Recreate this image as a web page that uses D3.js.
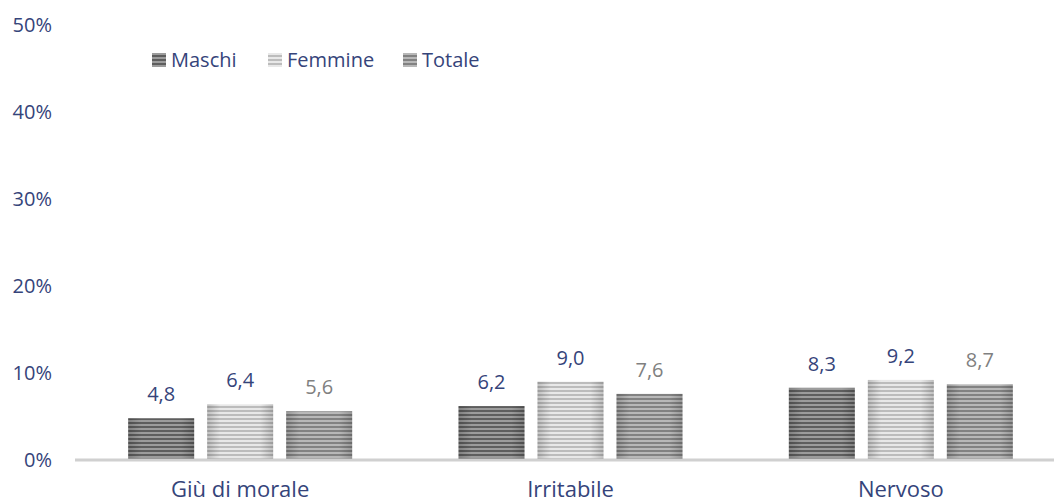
<!DOCTYPE html>
<html>
<head>
<meta charset="utf-8">
<script src="https://cdn.jsdelivr.net/npm/d3@7"></script>
<style>
  body { margin: 0; background: #fff; }
  text { font-family: "Open Sans", sans-serif; }
</style>
</head>
<body>
<div class="chart"></div>
<script>
var categories = ["Giù di morale", "Irritabile", "Nervoso"];
var seriesNames = ["Maschi", "Femmine", "Totale"];
var maschi = [4.8, 6.2, 8.3];
var femmine = [6.4, 9.0, 9.2];
var totale = [5.6, 7.6, 8.7];
var yTicks = [0, 10, 20, 30, 40, 50];

var svgWidth = 1054;
var svgHeight = 504;

var svg = d3.select(".chart")
  .append("svg")
  .attr("width", svgWidth)
  .attr("height", svgHeight);

// stripes + edge shading for the bars
var stripes = [
  { light: "#9c9c9c", dark: "#5e5e5e" },
  { light: "#e8e8e8", dark: "#bcbcbc" },
  { light: "#b8b8b8", dark: "#828282" }
];
var defs = svg.append("defs");
stripes.forEach(function (s, i) {
  var p = defs.append("pattern")
    .attr("id", "pat" + i)
    .attr("patternUnits", "userSpaceOnUse")
    .attr("width", 8)
    .attr("height", 4);
  p.append("rect").attr("width", 8).attr("height", 4).attr("fill", s.light);
  p.append("rect").attr("y", 2).attr("width", 8).attr("height", 2).attr("fill", s.dark);
});
var shade = defs.append("linearGradient").attr("id", "shade");
shade.append("stop").attr("offset", "0%").attr("stop-color", "#000").attr("stop-opacity", 0.18);
shade.append("stop").attr("offset", "20%").attr("stop-color", "#000").attr("stop-opacity", 0);
shade.append("stop").attr("offset", "80%").attr("stop-color", "#000").attr("stop-opacity", 0);
shade.append("stop").attr("offset", "100%").attr("stop-color", "#000").attr("stop-opacity", 0.18);

var x0 = d3.scaleBand()
  .domain(categories)
  .range([75, 1066]);

var innerW = 237;
var x1 = d3.scaleBand()
  .domain(seriesNames)
  .range([0, innerW])
  .paddingInner(13 / 79)
  .paddingOuter(13 / 158);

var y = d3.scaleLinear()
  .domain([0, 50])
  .range([460, 25]);

// y tick labels
svg.append("g").selectAll("text")
  .data(yTicks)
  .enter()
  .append("text")
  .attr("x", 52)
  .attr("y", d => y(d))
  .attr("dy", "0.35em")
  .attr("text-anchor", "end")
  .style("font-size", "20px")
  .style("fill", "#35447a")
  .text(d => d + "%");

var rows = [];
categories.forEach(function (c, i) {
  [maschi, femmine, totale].forEach(function (arr, j) {
    rows.push({ cat: c, series: seriesNames[j], idx: j, value: arr[i] });
  });
});

function barX(d) {
  return x0(d.cat) + (x0.bandwidth() - innerW) / 2 + x1(d.series);
}

var bars = svg.append("g");
bars.selectAll("rect.bar")
  .data(rows)
  .enter()
  .append("rect")
  .attr("class", "bar")
  .attr("x", barX)
  .attr("y", d => y(d.value))
  .attr("width", x1.bandwidth())
  .attr("height", d => y(0) - y(d.value))
  .attr("fill", d => "url(#pat" + d.idx + ")");

bars.selectAll("rect.shade")
  .data(rows)
  .enter()
  .append("rect")
  .attr("class", "shade")
  .attr("x", barX)
  .attr("y", d => y(d.value))
  .attr("width", x1.bandwidth())
  .attr("height", d => y(0) - y(d.value))
  .attr("fill", "url(#shade)");

// value labels
svg.append("g").selectAll("text")
  .data(rows)
  .enter()
  .append("text")
  .attr("x", d => barX(d) + x1.bandwidth() / 2)
  .attr("y", d => y(d.value) - 17)
  .attr("text-anchor", "middle")
  .style("font-size", "20px")
  .style("fill", d => d.idx === 2 ? "#808080" : "#35447a")
  .text(d => d.value.toFixed(1).replace(".", ","));

// x axis line
svg.append("line")
  .attr("x1", 75)
  .attr("x2", 1066)
  .attr("y1", y(0))
  .attr("y2", y(0))
  .attr("stroke", "#d0d0d0")
  .attr("stroke-width", 3);

// category labels
svg.append("g").selectAll("text")
  .data(categories)
  .enter()
  .append("text")
  .attr("x", d => x0(d) + x0.bandwidth() / 2)
  .attr("y", 497)
  .attr("text-anchor", "middle")
  .style("font-size", "22px")
  .style("fill", "#35447a")
  .text(d => d);

// legend
var legendX = [152, 268, 403];
var legend = svg.append("g").selectAll("g")
  .data(seriesNames)
  .enter()
  .append("g")
  .attr("transform", (d, i) => `translate(${legendX[i]}, 53)`);

legend.append("rect")
  .attr("width", 14)
  .attr("height", 14)
  .attr("fill", (d, i) => "url(#pat" + i + ")");

legend.append("text")
  .attr("x", 19)
  .attr("y", 14)
  .style("font-size", "20px")
  .style("fill", "#35447a")
  .text(d => d);
</script>
</body>
</html>
